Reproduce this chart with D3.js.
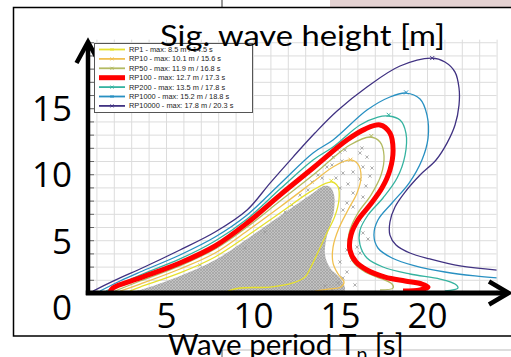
<!DOCTYPE html>
<html>
<head>
<meta charset="utf-8">
<script src="https://cdn.jsdelivr.net/npm/d3@7/dist/d3.min.js"></script>
<style>
  html, body { margin: 0; padding: 0; background: #fff; overflow: hidden; }
</style>
</head>
<body>
<div id="chart"></div>
<script>
// return-period contours, [Tp (s), Hs (m)]
const rp1 = [[2.93,0.15],[3.51,0.45],[5.80,1.52],[7.82,2.73],[9.66,4.32],[11.55,6.06],[13.45,7.80],[14.54,8.41],[14.89,8.03],[14.94,7.05],[14.71,5.83],[14.25,4.55],[13.74,3.11],[13.33,1.97],[12.99,1.21],[12.30,0.76],[10.98,0.45],[9.25,0.38],[8.56,0.15]];
const rp10 = [[2.36,0.15],[3.51,0.68],[5.80,1.82],[7.82,3.03],[9.66,4.70],[11.55,6.52],[13.45,8.41],[14.60,9.55],[15.57,10.08],[16.03,9.77],[16.21,8.79],[15.98,7.58],[15.46,6.29],[14.94,4.92],[14.60,3.48],[14.60,2.27],[14.89,1.44],[15.23,0.83],[15.06,0.45],[14.31,0.30],[13.56,0.15]];
const rp50 = [[2.07,0.15],[3.51,0.91],[5.80,2.05],[7.82,3.33],[9.66,5.00],[11.55,6.97],[13.45,8.94],[14.60,10.23],[15.57,11.21],[16.72,11.82],[17.30,11.44],[17.53,10.38],[17.36,8.94],[16.78,7.42],[16.03,6.06],[15.57,4.77],[15.46,3.48],[15.75,2.35],[16.44,1.59],[17.41,1.06],[17.99,0.68],[18.05,0.38],[17.30,0.23]];
const rp100 = [[1.78,0.08],[1.95,0.38],[3.51,1.14],[5.80,2.27],[7.82,3.56],[9.66,5.30],[11.55,7.42],[13.45,9.47],[15.40,11.59],[16.44,12.42],[17.30,12.73],[17.87,12.12],[18.05,10.83],[17.87,9.32],[17.41,7.95],[16.72,6.67],[16.03,5.53],[15.63,4.39],[15.57,3.26],[15.92,2.35],[16.55,1.74],[17.59,1.21],[18.74,0.91],[19.71,0.68],[20.06,0.45],[19.60,0.23],[18.62,0.15]];
const rp200 = [[1.55,0.15],[2.64,0.83],[3.51,1.36],[5.80,2.58],[7.82,3.94],[9.66,5.61],[11.55,7.88],[13.45,10.08],[14.60,11.06],[16.15,12.73],[17.18,13.33],[17.76,13.41],[18.45,13.11],[18.79,12.12],[18.74,10.45],[18.28,8.71],[17.47,7.20],[16.61,5.91],[16.15,4.77],[16.15,3.64],[16.55,2.65],[17.47,1.97],[19.02,1.44],[20.75,1.06],[21.61,0.68],[21.78,0.38],[21.03,0.15]];
const rp1000 = [[1.21,0.15],[2.36,0.91],[3.51,1.59],[5.80,2.88],[7.82,4.24],[9.66,5.91],[11.55,8.26],[13.45,10.61],[14.60,11.59],[16.55,13.86],[17.87,14.85],[18.79,15.15],[19.60,14.70],[20.00,13.48],[20.06,11.74],[19.71,10.08],[18.97,8.33],[17.99,6.82],[17.18,5.53],[16.95,4.39],[17.18,3.41],[17.99,2.65],[19.31,2.05],[21.03,1.59],[22.76,1.29],[24.02,1.14]];
const rp10000 = [[0.80,0.15],[1.03,0.30],[2.36,1.14],[3.51,1.82],[5.80,3.26],[7.82,4.62],[9.66,6.29],[10.98,8.33],[12.30,10.30],[13.56,12.12],[14.83,13.79],[16.55,15.61],[18.45,17.20],[20.29,17.80],[21.03,17.50],[21.61,16.74],[21.84,15.53],[21.84,14.24],[21.61,12.73],[21.15,11.36],[20.52,10.08],[19.60,8.94],[18.74,7.65],[18.16,6.52],[17.87,5.38],[17.87,4.39],[18.22,3.64],[19.02,3.03],[20.17,2.58],[21.90,2.05],[24.02,1.74]];

const rpNames = ["RP1","RP10","RP50","RP100","RP200","RP1000","RP10000"];
const rpMaxHs = [8.5, 10.1, 11.9, 12.7, 13.5, 15.2, 17.8];
const rpMaxTp = [14.5, 15.6, 16.8, 17.3, 17.8, 18.8, 20.3];

// hindcast sea states: outline of the dense cloud + scattered points
const cloudEdge = [[2.64,0.00],[3.51,0.23],[5.80,1.29],[7.82,2.50],[9.66,4.09],[11.55,5.83],[13.45,7.58],[14.08,8.11],[14.43,8.03],[14.66,7.42],[14.66,6.29],[14.43,5.15],[14.20,4.02],[14.14,2.88],[14.43,1.89],[15.00,1.14],[15.29,0.38],[15.23,0.00]];
const seaStates = [[15.00,10.68],[15.29,10.83],[16.15,10.61],[16.26,10.98],[16.55,10.30],[14.25,9.55],[14.60,10.30],[15.11,10.00],[15.75,9.17],[16.15,8.64],[16.72,8.86],[16.32,9.55],[15.17,9.09],[15.46,8.26],[15.00,7.95],[15.75,7.58],[16.32,7.27],[15.40,6.82],[15.17,6.29],[15.75,6.52],[16.15,5.53],[16.32,4.55],[16.61,4.09],[15.98,3.48],[16.15,3.03],[15.40,3.26],[15.69,2.50],[15.00,2.35],[15.40,1.59],[15.17,1.14],[14.89,0.76],[15.86,0.61],[14.54,9.70],[13.97,8.71],[13.39,8.41],[13.74,8.94],[14.77,8.71],[12.70,7.42],[12.24,6.67],[13.16,7.80],[16.84,9.47],[16.49,8.11],[14.54,0.23],[14.14,0.53],[6.95,2.12],[9.54,3.41],[10.69,4.62],[11.84,6.14]];

const tpLabels = [5, 10, 15, 20];
const hsLabels = [0, 5, 10, 15];

const contours = [rp1, rp10, rp50, rp100, rp200, rp1000, rp10000];
const colors = ["#e6e02e", "#f0c050", "#b3ba62", "#ff0000", "#35b3a0", "#2890c2", "#403282"];

const width = 511, height = 357;
const svg = d3.select("#chart").append("svg")
  .attr("width", width).attr("height", height)
  .style("font-family", "'Liberation Sans', Arial, sans-serif");

const x = d3.scaleLinear().domain([0, 24]).range([79, 496.6]);
const y = d3.scaleLinear().domain([0, 19.2]).range([293, 39.6]);
// the big slide labels sit a bit lower than the real data ticks
const yLab = d3.scaleLinear().domain([0, 15]).range([307, 108]);

const plotL = 88, plotR = x(24), plotT = y(19.2), plotB = y(0);

const defs = svg.append("defs");
defs.append("clipPath").attr("id", "plotClip").append("rect")
  .attr("x", plotL).attr("y", plotT).attr("width", plotR - plotL).attr("height", plotB - plotT);
const pat = defs.append("pattern").attr("id", "xs")
  .attr("width", 3).attr("height", 3).attr("patternUnits", "userSpaceOnUse");
pat.append("rect").attr("width", 3).attr("height", 3).attr("fill", "#c2c2c2");
pat.append("path").attr("d", "M0,0L3,3M3,0L0,3").attr("stroke", "#9a9a9a").attr("stroke-width", 0.6);

// slide furniture around the figure
svg.append("rect").attr("x", 330).attr("y", 0).attr("width", 181).attr("height", 7).attr("fill", "#e4d2d2");
svg.append("line").attr("x1", 222).attr("x2", 222).attr("y1", 0).attr("y2", 7).attr("stroke", "#333");
svg.append("line").attr("x1", 222).attr("x2", 511).attr("y1", 350).attr("y2", 350).attr("stroke", "#bbb");
svg.append("line").attr("x1", 222).attr("x2", 222).attr("y1", 350).attr("y2", 357).attr("stroke", "#555");
svg.append("path").attr("d", "M511,7.5H13.5V336H511")
  .attr("fill", "none").attr("stroke", "#000").attr("stroke-width", 1.5);

// grid
const gx = svg.append("g").attr("transform", `translate(0,${plotB})`)
  .call(d3.axisBottom(x).tickValues(d3.range(1, 25)).tickSize(-(plotB - plotT)).tickFormat(""));
const gy = svg.append("g").attr("transform", `translate(${plotL},0)`)
  .call(d3.axisLeft(y).tickValues(d3.range(1, 20)).tickSize(-(plotR - plotL)).tickFormat(""));
[gx, gy].forEach(g => {
  g.select(".domain").remove();
  g.selectAll("line").attr("stroke", "#dcdcdc");
});
const ticksY = svg.append("g").attr("transform", `translate(${plotL + 2},0)`)
  .call(d3.axisRight(y).tickValues(d3.range(1, 20)).tickSize(4).tickFormat(""));
ticksY.select(".domain").remove();
ticksY.selectAll("line").attr("stroke", "#666");

const plot = svg.append("g").attr("clip-path", "url(#plotClip)");

// scatter
plot.append("path").datum(cloudEdge)
  .attr("d", d3.line().x(d => x(d[0])).y(d => y(d[1])).curve(d3.curveCatmullRom))
  .attr("fill", "url(#xs)");
plot.append("g").selectAll("path").data(seaStates).enter().append("path")
  .attr("transform", d => `translate(${x(d[0])},${y(d[1])})`)
  .attr("d", "M-1.6,-1.6L1.6,1.6M1.6,-1.6L-1.6,1.6")
  .attr("stroke", "#999").attr("stroke-width", 0.8);

// contours
const line = d3.line().x(d => x(d[0])).y(d => y(d[1])).curve(d3.curveCatmullRom.alpha(0.5));
const order = [6, 5, 4, 2, 1, 0, 3];
order.forEach(i => {
  plot.append("path").datum(contours[i])
    .attr("d", line).attr("fill", "none")
    .attr("stroke", colors[i]).attr("stroke-width", i === 3 ? 5 : 1.3)
    .attr("stroke-linejoin", "round");
  if (i !== 3) {
    plot.append("path")
      .attr("transform", `translate(${x(rpMaxTp[i])},${y(rpMaxHs[i])})`)
      .attr("d", "M-2,-2L2,2M2,-2L-2,2").attr("stroke", colors[i]).attr("stroke-width", 1);
  }
});

// big arrow axes
svg.append("path").attr("d", `M${plotL},${plotB + 2}V43`)
  .attr("stroke", "#000").attr("stroke-width", 4.5).attr("fill", "none");
svg.append("path").attr("d", "M76.5,63L88,42L99.5,63")
  .attr("stroke", "#000").attr("stroke-width", 4.5).attr("fill", "none");
svg.append("path").attr("d", `M${plotL - 2.2},${plotB}H507`)
  .attr("stroke", "#000").attr("stroke-width", 5).attr("fill", "none");
svg.append("path").attr("d", "M489,281.5L508.5,293L489,304.5")
  .attr("stroke", "#000").attr("stroke-width", 4.5).attr("fill", "none");

// legend
const leg = svg.append("g");
leg.append("rect").attr("x", 94.5).attr("y", 43.5).attr("width", 158).attr("height", 69)
  .attr("fill", "#fff").attr("stroke", "#555").attr("stroke-width", 1);
rpNames.forEach((name, i) => {
  const ry = 49.5 + i * 9.4;
  leg.append("line").attr("x1", 99).attr("x2", 125).attr("y1", ry).attr("y2", ry)
    .attr("stroke", colors[i]).attr("stroke-width", i === 3 ? 5 : 1.8);
  if (i !== 3) {
    leg.append("path").attr("transform", `translate(112,${ry})`)
      .attr("d", "M-1.5,-1.5L1.5,1.5M1.5,-1.5L-1.5,1.5").attr("stroke", colors[i]).attr("stroke-width", 1);
  }
  leg.append("text").attr("x", 129).attr("y", ry).attr("dy", "0.35em")
    .attr("font-size", 7.4).attr("fill", "#222")
    .text(`${name} - max: ${rpMaxHs[i].toFixed(1)} m / ${rpMaxTp[i].toFixed(1)} s`);
});

// slide tick labels
const ax = svg.append("g").attr("transform", "translate(0,303)")
  .call(d3.axisBottom(x).tickValues(tpLabels).tickSize(0).tickPadding(0));
ax.select(".domain").remove();
ax.selectAll("text").attr("font-family", "'Open Sans', sans-serif").attr("font-size", 35)
  .attr("fill", "#000").attr("dy", "0.72em");
const ay = svg.append("g").attr("transform", "translate(72,0)")
  .call(d3.axisLeft(yLab).tickValues(hsLabels).tickSize(0).tickPadding(0));
ay.select(".domain").remove();
ay.selectAll("text").attr("font-family", "'Open Sans', sans-serif").attr("font-size", 35)
  .attr("fill", "#000").attr("dy", "0.36em");

// titles
svg.append("text").attr("x", 160).attr("y", 46)
  .attr("font-family", "Lato, sans-serif").attr("font-size", 28).attr("fill", "#000")
  .attr("textLength", 285).attr("lengthAdjust", "spacingAndGlyphs")
  .text("Sig. wave height [m]");
const xt = svg.append("text").attr("x", 168).attr("y", 355)
  .attr("font-family", "Lato, sans-serif").attr("font-size", 29.5).attr("fill", "#000");
xt.append("tspan").text("Wave period T");
xt.append("tspan").attr("font-size", 19).attr("dy", 6).text("p");
xt.append("tspan").attr("dy", -6).text(" [s]");
</script>
</body>
</html>
